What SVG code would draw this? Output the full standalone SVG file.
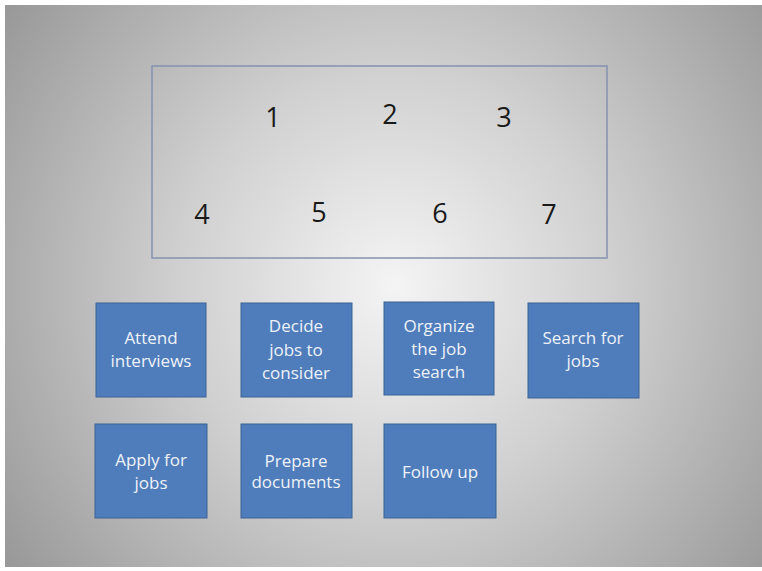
<svg xmlns="http://www.w3.org/2000/svg" width="762" height="571" viewBox="0 0 762 571">
<defs>
<radialGradient id="bg" cx="395" cy="285" r="480" gradientUnits="userSpaceOnUse">
<stop offset="0" stop-color="#f4f4f4"/>
<stop offset="0.45" stop-color="#d0d0d0"/>
<stop offset="1" stop-color="#989898"/>
</radialGradient>
<style>
.num{font-family:"Open Sans","Liberation Sans",sans-serif;font-size:27px;fill:#1a1a1a;text-anchor:middle}
.box{fill:#4f7dbb;stroke:#3d6296;stroke-width:1}
.lbl{font-family:"Open Sans","Liberation Sans",sans-serif;font-size:17px;fill:#eef2f8;text-anchor:middle}
</style>
</defs>
<rect x="0" y="0" width="762" height="571" fill="#ffffff"/>
<rect x="5" y="5" width="757" height="562" fill="url(#bg)"/>
<g id="frame">
<rect x="152" y="66" width="455" height="192" fill="none" stroke="#8493b2" stroke-width="1.5"/>
<text class="num" x="273" y="127">1</text>
<text class="num" x="390" y="124">2</text>
<text class="num" x="504" y="127">3</text>
<text class="num" x="202" y="224">4</text>
<text class="num" x="319" y="222">5</text>
<text class="num" x="440" y="223">6</text>
<text class="num" x="549" y="224">7</text>
</g>
<g id="connectors"></g>
<g id="attend">
<rect class="box" x="96" y="303" width="110" height="94"/>
<text class="lbl" x="151" y="344">Attend</text>
<text class="lbl" x="151" y="367">interviews</text>
</g>
<g id="decide">
<rect class="box" x="241" y="303" width="111" height="94"/>
<text class="lbl" x="296" y="332">Decide</text>
<text class="lbl" x="296" y="356">jobs to</text>
<text class="lbl" x="296" y="379">consider</text>
</g>
<g id="organize">
<rect class="box" x="384" y="302" width="110" height="93"/>
<text class="lbl" x="439" y="332">Organize</text>
<text class="lbl" x="439" y="355">the job</text>
<text class="lbl" x="439" y="378">search</text>
</g>
<g id="search">
<rect class="box" x="528" y="303" width="111" height="95"/>
<text class="lbl" x="583" y="344">Search for</text>
<text class="lbl" x="583" y="367">jobs</text>
</g>
<g id="apply">
<rect class="box" x="95" y="424" width="112" height="94"/>
<text class="lbl" x="151" y="466">Apply for</text>
<text class="lbl" x="151" y="489">jobs</text>
</g>
<g id="prepare">
<rect class="box" x="241" y="424" width="111" height="94"/>
<text class="lbl" x="296" y="467">Prepare</text>
<text class="lbl" x="296" y="488">documents</text>
</g>
<g id="follow">
<rect class="box" x="384" y="424" width="112" height="94"/>
<text class="lbl" x="440" y="478">Follow up</text>
</g>
</svg>
